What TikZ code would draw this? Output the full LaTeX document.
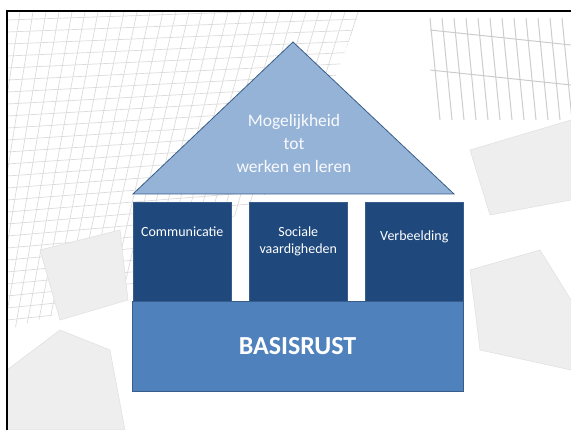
\documentclass[tikz,border=0pt]{standalone}
\usepackage{fontspec}
\setmainfont{Carlito}
\usetikzlibrary{positioning}

\definecolor{roofblue}{HTML}{95B3D7}
\definecolor{pillarblue}{HTML}{1F497D}
\definecolor{baseblue}{HTML}{4F81BD}
\definecolor{edgeblue}{HTML}{385D8A}

\begin{document}
\begin{tikzpicture}[x=1pt,y=-1pt,
  mesh/.style={gray!28,line width=0.7pt},
  rubble/.style={fill=gray!13,draw=gray!25,line width=0.5pt},
  roof/.style={fill=roofblue,draw=edgeblue,line width=0.8pt},
  pillar/.style={fill=pillarblue,draw=edgeblue,line width=0.6pt,minimum width=98pt,
    minimum height=99pt,inner sep=0pt,anchor=north west},
  pillartext/.style={text=white,font=\fontsize{14}{17}\selectfont,align=center,inner sep=0pt,anchor=north},
  rooftext/.style={text=white!94!roofblue,font=\fontsize{17.5}{23}\selectfont,align=center,inner sep=0pt},
  basebox/.style={fill=baseblue,draw=edgeblue,line width=0.8pt,minimum width=331pt,
    minimum height=90pt,inner sep=0pt,text=white,font=\bfseries\fontsize{26}{30}\selectfont}]
\useasboundingbox (0,0) rectangle (571,430);

% background photo, only hinted
\begin{scope}
\clip (7,12) -- (360,12) -- (300,170) -- (130,290) -- (7,330) -- cycle;
\foreach \i in {0,...,30}
  \draw[mesh] (7+\i*13,12) -- (-40+\i*11,330);
\foreach \j in {0,...,26}
  \draw[mesh] (7,20+\j*12) -- (360,8+\j*11);
\end{scope}
\begin{scope}
\clip (425,12) rectangle (571,125);
\foreach \i in {0,...,12}
  \draw[gray!40,line width=1pt] (430+\i*12,18) -- (440+\i*12,120);
\draw[gray!40,line width=1pt] (430,30) -- (571,45);
\draw[gray!40,line width=1pt] (430,70) -- (571,85);
\end{scope}
\fill[rubble] (7,370) -- (60,330) -- (110,350) -- (125,430) -- (7,430) -- cycle;
\fill[rubble] (470,150) -- (571,120) -- (571,200) -- (490,215) -- cycle;
\fill[rubble] (470,270) -- (540,250) -- (571,300) -- (571,370) -- (480,350) -- cycle;
\fill[rubble] (40,250) -- (120,230) -- (128,300) -- (60,320) -- cycle;

% frame
\draw[black,line width=2pt] (7,430) -- (7,11) -- (571,11);

% roof
\coordinate (apex) at (293,42);
\coordinate (roofL) at (133,194);
\coordinate (roofR) at (454,194);
\draw[roof] (roofL) -- (apex) -- (roofR) -- cycle;
\node[rooftext] (rooftxt) at (294,143) {Mogelijkheid\\tot\\werken en leren};

% pillars
\node[pillar] (p1) at (133,202) {};
\node[pillar] (p2) at (249,202) {};
\node[pillar] (p3) at (365,202) {};
\node[pillartext, below=25pt of p1.north] (t1) {Communicatie};
\node[pillartext, below=25pt of p2.north] (t2) {Sociale\\vaardigheden};
\node[pillartext, below=29pt of p3.north] (t3) {Verbeelding};

% base
\node[basebox] (base) at (297.5,346) {BASISRUST};
\end{tikzpicture}
\end{document}
